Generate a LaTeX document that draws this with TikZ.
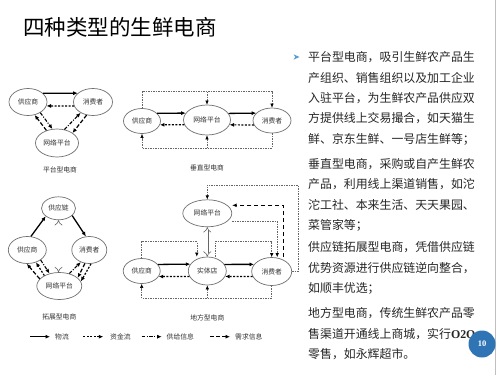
\documentclass[tikz,border=0pt]{standalone}
\usepackage{fontspec}
\setmainfont{Noto Sans CJK SC}
\newfontfamily\lserif{Liberation Serif}
\usetikzlibrary{arrows.meta,shapes.geometric,calc}
\definecolor{ellc}{HTML}{707070}
\definecolor{txtc}{HTML}{333333}
\definecolor{bodyc}{HTML}{262626}
\definecolor{pgblue}{HTML}{2F75B5}
\definecolor{bulc}{HTML}{5B9BD5}
\tikzset{
  ell/.style={ellipse, draw=ellc, line width=0.7pt, fill=white, inner sep=0pt, text=txtc, font=\fontsize{6.8}{7}\selectfont},
  wl/.style={draw=black, line width=1.3pt, -{Latex[length=4.5pt,width=4pt]}},
  zj/.style={draw=black, line width=1.2pt, dash pattern=on 2pt off 1.5pt, -{Latex[length=4.5pt,width=4pt]}},
  gj/.style={draw=black, line width=1.1pt, dash pattern=on 3.5pt off 1.5pt on 1pt off 1.5pt, -{Latex[length=4.5pt,width=4pt]}},
  xq/.style={draw=black, line width=1.2pt, dash pattern=on 4pt off 2pt, -{Latex[length=4.5pt,width=4pt]}},
  xqthick/.style={draw=black, line width=1.5pt, dash pattern=on 4.5pt off 2.5pt, -{Latex[length=4.5pt,width=4pt]}},
  looptip/.style={line width=0.6pt, draw=black!60, dash pattern=on 1.5pt off 1pt, -{Latex[length=4pt,width=3.5pt,color=black]}},
  dbl/.style={draw=black!60, double=white, double distance=2.2pt, line width=0.6pt, {Implies}-{Implies}},
  captxt/.style={text=txtc, font=\fontsize{6.8}{8}\selectfont, inner sep=0pt},
  lab/.style={text=txtc, font=\fontsize{6.8}{8}\selectfont, inner sep=0pt, anchor=west},
  body/.style={text=bodyc, font=\fontsize{11.9}{14}\selectfont, inner sep=0pt, anchor=west}
}
\begin{document}
\begin{tikzpicture}[x=1pt,y=-1pt]
\useasboundingbox (0,0) rectangle (503,375);
\fill[white] (0,0) rectangle (503,375);
\draw[black!25, line width=0.6pt] (495,0) -- (495,375);

% title
\node[anchor=west, inner sep=0pt, font=\fontsize{21.5}{24}\selectfont] (title) at (23,27) {四种类型的生鲜电商};

% ---------- nodes ----------
\node[ell, minimum width=38pt, minimum height=27pt] (s1) at (28,102) {供应商};
\node[ell, minimum width=39pt, minimum height=27pt] (c1) at (93,102) {消费者};
\node[ell, minimum width=43pt, minimum height=28pt] (p1) at (57,143) {网络平台};
\node[captxt] (cap1) at (60,170) {平台型电商};

\node[ell, minimum width=37pt, minimum height=25pt] (s2) at (142,121) {供应商};
\node[ell, minimum width=47pt, minimum height=30pt] (p2) at (207,120) {网络平台};
\node[ell, minimum width=38pt, minimum height=25pt] (c2) at (272,120.5) {消费者};
\node[captxt] (cap2) at (207,168.3) {垂直型电商};

\node[ell, minimum width=34pt, minimum height=23pt] (k3) at (58.5,208.3) {供应链};
\node[ell, minimum width=38pt, minimum height=27pt] (s3) at (27.3,250) {供应商};
\node[ell, minimum width=35pt, minimum height=27pt] (c3) at (89.3,250) {消费者};
\node[ell, minimum width=45pt, minimum height=27pt] (p3) at (59.3,286) {网络平台};
\node[captxt] (cap3) at (59.3,317.3) {拓展型电商};

\node[ell, minimum width=49pt, minimum height=27pt] (p4) at (207.3,213.3) {网络平台};
\node[ell, minimum width=37pt, minimum height=25pt] (s4) at (141.7,271) {供应商};
\node[ell, minimum width=38pt, minimum height=28pt] (e4) at (207.3,271) {实体店};
\node[ell, minimum width=40pt, minimum height=28pt] (c4) at (271.7,271.5) {消费者};
\node[captxt] (cap4) at (207.3,318.3) {地方型电商};

% ---------- right text ----------
\fill[bulc] (293.5,54.3) -- (299.5,57) -- (293.5,59.7) -- (295.3,57) -- cycle;
\node[body] (l1) at (308,57) {平台型电商，吸引生鲜农产品生};
\node[body] (l2) at (308,77.5) {产组织、销售组织以及加工企业};
\node[body] (l3) at (308,98) {入驻平台，为生鲜农产品供应双};
\node[body] (l4) at (308,118.5) {方提供线上交易撮合，如天猫生};
\node[body] (l5) at (308,139.5) {鲜、京东生鲜、一号店生鲜等；};
\node[body] (l6) at (308,164) {垂直型电商，采购或自产生鲜农};
\node[body] (l7) at (308,184.5) {产品，利用线上渠道销售，如沱};
\node[body] (l8) at (308,205) {沱工社、本来生活、天天果园、};
\node[body] (l9) at (308,225.5) {菜管家等；};
\node[body] (l10) at (308,247.3) {供应链拓展型电商，凭借供应链};
\node[body] (l11) at (308,267.8) {优势资源进行供应链逆向整合，};
\node[body] (l12) at (308,288.3) {如顺丰优选；};
\node[body] (l13) at (308,313.5) {地方型电商，传统生鲜农产品零};
\node[body] (l14) at (308,334) {售渠道开通线上商城，实行{\lserif\bfseries O2O}};
\node[body] (l15) at (308,354.5) {零售，如永辉超市。};

\node[circle, fill=pgblue, minimum size=27pt, inner sep=0pt, text=white, font=\lserif\bfseries\fontsize{8.5}{9}\selectfont] (pg) at (482,344) {10};

% ---------- legend ----------
\coordinate (la1) at (30,336.7);  \coordinate (lb1) at (50,336.7);
\coordinate (la2) at (83.3,336.7); \coordinate (lb2) at (103.3,336.7);
\coordinate (la3) at (141.7,336.7); \coordinate (lb3) at (161.7,336.7);
\coordinate (la4) at (210,336.7); \coordinate (lb4) at (230,336.7);
\node[lab] (n1) at (55,336.7) {物流};
\node[lab] (n2) at (110,336.7) {资金流};
\node[lab] (n3) at (166.5,336.7) {供给信息};
\node[lab] (n4) at (235,336.7) {需求信息};
\draw[wl] (la1) -- (lb1);
\draw[zj] (la2) -- (lb2);
\draw[gj] (la3) -- (lb3);
\draw[xq] (la4) -- (lb4);

% ---------- connectors: diagram 1 ----------
\draw[wl] (s1.30) -- (c1.150.6);
\draw[zj] (c1.192.5) -- (s1.-12.5);
\draw[xq] (p1.130) -- (s1.-63);
\draw[gj] (s1.-41) -- (p1.108);
\draw[gj] (p1.61) -- (c1.221);
\draw[xq] (c1.244) -- (p1.33);

% ---------- connectors: diagram 2 ----------
\draw[wl] (s2.27.8) -- (p2.162.3);
\draw[zj] (p2.192.7) -- (s2.-12.9);
\draw[wl] (p2.17.7) -- (c2.155.1);
\draw[zj] (c2.194.2) -- (p2.-12.7);
\coordinate (t2) at (0,91.7);
\coordinate (b2) at (0,148.3);
\draw[looptip] (s2.north) -- (s2.north |- t2) -| (c2.north);
\draw[looptip] (p2.north |- t2) -- (p2.north);
\draw[looptip] (c2.south) -- (c2.south |- b2) -| (s2.south);
\draw[looptip] (p2.south |- b2) -- (p2.south);

% ---------- connectors: diagram 3 ----------
\draw[wl] (s3.75) -- (k3.212);
\draw[wl] (k3.-28) -- (c3.104);
\draw[dbl] (k3.south) -- (k3.south |- p3.north);
\draw[xq] (p3.160) -- (s3.-92);
\draw[zj] (p3.145) -- (s3.-55);
\draw[gj] (s3.-37) -- (p3.128);
\draw[gj] (p3.51) -- (c3.235);
\draw[xq] (c3.252) -- (p3.24);
\draw[zj] (c3.277) -- (p3.12);

% ---------- connectors: diagram 4 ----------
\draw[wl] (s4.22.4) -- (e4.158.9);
\draw[zj] (e4.197.5) -- (s4.-18.3);
\draw[wl] (e4.21.1) -- (c4.158);
\draw[zj] (c4.195) -- (e4.-17.5);
\draw[dbl] (p4.south) -- (p4.south |- e4.north);
\coordinate (t4) at (0,241.7);
\coordinate (b4) at (0,298.3);
\coordinate (o4) at (298,185);
\draw[looptip] (s4.north) -- (s4.north |- t4) -| ([xshift=-10.5pt]e4.north);
\draw[looptip] ([xshift=8pt]e4.north) -- ([xshift=8pt]e4.north |- t4) -| (c4.north);
\draw[looptip] ([yshift=-8pt]p4.east) -| ([xshift=5.5pt]c4.north);
\draw[xqthick] ([xshift=11.6pt]c4.north) |- ([yshift=8pt]p4.east);
\draw[looptip] (c4.east) -| (o4) -| (p4.north);
\draw[looptip] (c4.south) -- (c4.south |- b4) -| (s4.south);
\draw[looptip] (e4.south |- b4) -- (e4.south);
\end{tikzpicture}
\end{document}
